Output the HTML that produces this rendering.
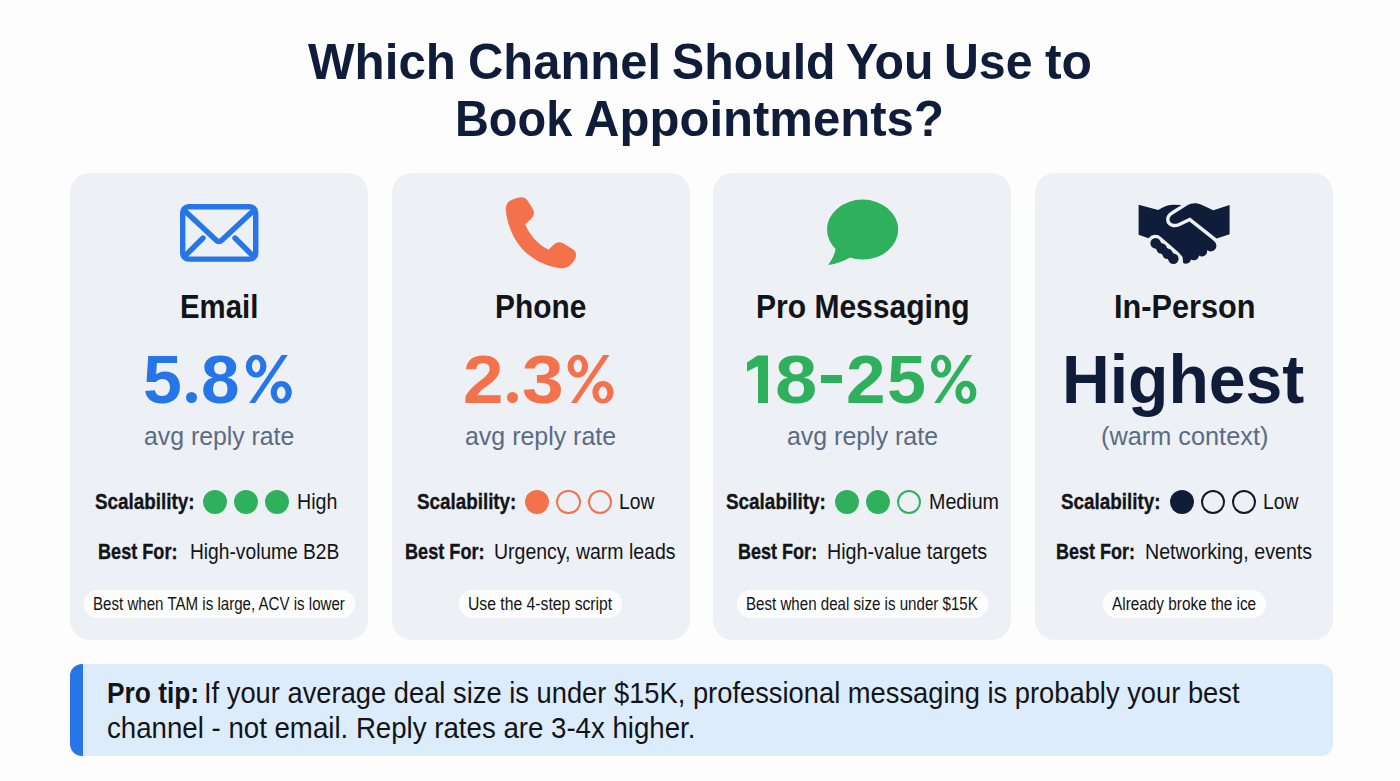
<!DOCTYPE html>
<html><head><meta charset="utf-8"><title>Which Channel Should You Use to Book Appointments?</title>
<style>
html,body{margin:0;padding:0}
body{width:1400px;height:781px;position:relative;overflow:hidden;background:#fdfdfd;font-family:"Liberation Sans",sans-serif}
.t{position:absolute;white-space:nowrap;transform-origin:0 0}
.card{position:absolute;top:173px;height:466.5px;background:#edf0f5;border-radius:20px}
.pill{position:absolute;top:590px;height:27.5px;background:#fdfdfd;border-radius:14px}
.dot{position:absolute;top:489.8px;width:24.4px;height:24.4px;border-radius:50%;box-sizing:border-box}
.tip{position:absolute;left:70px;top:663.5px;width:1263px;height:92.2px;box-sizing:border-box;background:#ddecfb;border-left:13px solid #2676e9;border-radius:12px}
svg{position:absolute;left:0;top:0}
</style></head><body>
<div class="card" style="left:70px;width:298px"></div><div class="card" style="left:391.6px;width:298.4px"></div><div class="card" style="left:713.2px;width:298.2px"></div><div class="card" style="left:1035px;width:298px"></div>
<div class="pill" style="left:84px;width:270.5px"></div><div class="pill" style="left:459px;width:163.3px"></div><div class="pill" style="left:736.8px;width:251.5px"></div><div class="pill" style="left:1102.5px;width:163.3px"></div>
<div class="tip"></div>
<div class="dot" style="left:202.5px;background:#2eb05c"></div><div class="dot" style="left:233.8px;background:#2eb05c"></div><div class="dot" style="left:264.9px;background:#2eb05c"></div><div class="dot" style="left:525px;background:#f3714b"></div><div class="dot" style="left:556.2px;border:2px solid #f3714b"></div><div class="dot" style="left:587.9px;border:2px solid #f3714b"></div><div class="dot" style="left:834.6px;background:#2eb05c"></div><div class="dot" style="left:866px;background:#2eb05c"></div><div class="dot" style="left:897.1px;border:2px solid #2eb05c"></div><div class="dot" style="left:1169.8px;background:#0f1d3a"></div><div class="dot" style="left:1200.8px;border:2px solid #121826"></div><div class="dot" style="left:1231.8px;border:2px solid #121826"></div>
<div style="position:absolute;left:185.7px;top:392.1px;width:11.4px;height:11.4px;border-radius:50%;background:#2676e9"></div><svg width="1400" height="781" style="position:absolute;left:0;top:0"><path fill="#2676e9" fill-rule="evenodd" d="M245.79 366.19 A10.34 11.39 0 1 0 266.48 366.19 A10.34 11.39 0 1 0 245.79 366.19 ZM251.98 366.00 A4.15 6.41 0 1 0 260.29 366.00 A4.15 6.41 0 1 0 251.98 366.00 ZM270.70 392.26 A10.55 11.25 0 1 0 291.80 392.26 A10.55 11.25 0 1 0 270.70 392.26 ZM276.89 392.79 A4.31 6.21 0 1 0 285.52 392.79 A4.31 6.21 0 1 0 276.89 392.79 Z"/><path fill="#2676e9" d="M281.53 355.09 L287.77 355.09 L255.13 403.11 L249.22 403.11 Z"/></svg><div style="position:absolute;left:506.9px;top:392.1px;width:11.4px;height:11.4px;border-radius:50%;background:#f3714b"></div><svg width="1400" height="781" style="position:absolute;left:0;top:0"><path fill="#f3714b" fill-rule="evenodd" d="M567.49 366.19 A10.34 11.39 0 1 0 588.18 366.19 A10.34 11.39 0 1 0 567.49 366.19 ZM573.68 366.00 A4.15 6.41 0 1 0 581.99 366.00 A4.15 6.41 0 1 0 573.68 366.00 ZM592.40 392.26 A10.55 11.25 0 1 0 613.50 392.26 A10.55 11.25 0 1 0 592.40 392.26 ZM598.59 392.79 A4.31 6.21 0 1 0 607.22 392.79 A4.31 6.21 0 1 0 598.59 392.79 Z"/><path fill="#f3714b" d="M603.23 355.09 L609.47 355.09 L576.83 403.11 L570.92 403.11 Z"/></svg><svg width="1400" height="781" style="position:absolute;left:0;top:0"><path fill="#2eb05c" d="M757.6 355.6 L768 355.6 L768 402.9 L758 402.9 L758 366 L747 371.5 L747 362.6 Z"/></svg><div style="position:absolute;left:820.5px;top:375.4px;width:21.9px;height:7.8px;background:#2eb05c"></div><svg width="1400" height="781" style="position:absolute;left:0;top:0"><path fill="#2eb05c" fill-rule="evenodd" d="M930.89 366.19 A10.21 11.39 0 1 0 951.31 366.19 A10.21 11.39 0 1 0 930.89 366.19 ZM937.00 366.00 A4.10 6.41 0 1 0 945.20 366.00 A4.10 6.41 0 1 0 937.00 366.00 ZM955.48 392.26 A10.42 11.25 0 1 0 976.31 392.26 A10.42 11.25 0 1 0 955.48 392.26 ZM961.59 392.79 A4.26 6.21 0 1 0 970.11 392.79 A4.26 6.21 0 1 0 961.59 392.79 Z"/><path fill="#2eb05c" d="M966.17 355.09 L972.33 355.09 L940.11 403.11 L934.27 403.11 Z"/></svg>
<svg width="1400" height="781" viewBox="0 0 1400 781">
<!-- envelope -->
<g fill="none" stroke="#2676e9" stroke-width="5.4" stroke-linejoin="round" stroke-linecap="round">
<rect x="182.7" y="206.7" width="73" height="52.4" rx="6"/>
<path d="M186 212 L216 240 Q219 243 222 240 L252 212"/>
<path d="M186 255 L203 238 M252 255 L235 238"/>
</g>
<!-- phone -->
<path fill="#f3714b" d="M505.8 210 C505.4 202 511 199 519.5 197.4 C523.5 196.9 525.8 198 527.8 201 L532.8 209 C535 213 534 216 531 219 L525.2 224.2 C530 236 539 245 548.6 249.8 L552.8 245.6 C556.8 241.6 560 241.6 564 243.8 L572.4 249 C576.4 251.8 577 255 575 259 C572 265 567 269 560 268.2 C528 263.5 509 240 505.8 210 Z"/>
<!-- bubble -->
<g fill="#2eb05c">
<ellipse cx="862.6" cy="229.6" rx="35.6" ry="30"/>
<path d="M836 247 C835 254 832 260 828 265 C836 264 845 261 852 256 Z"/>
</g>
<!-- handshake -->
<g fill="#0f1d3a">
<path d="M1138.6 204.7 L1158.3 210.1 C1162 207.5 1167 205 1172.6 204.7 L1181 205 L1200 222 L1214.5 241.5 A5.2 5.2 0 0 1 1207 250 A5.2 5.2 0 0 1 1199 255.5 A5.2 5.2 0 0 1 1191 259.5 A5.2 5.2 0 0 1 1183.2 263 L1182.6 257 L1178.5 252.3 L1161.2 237.2 A8.4 8.4 0 0 0 1148.5 238.3 L1138.6 234.7 Z"/>
<path stroke="#edf0f5" stroke-width="6.8" paint-order="stroke" stroke-linejoin="round" d="M1229.6 205 L1229.6 234.3 L1216.6 238.6 L1190 217.5 L1178 223.2 C1174 225 1169.5 223 1169.5 219.5 C1169.5 217 1171 215.5 1173.3 214.2 L1187 205.5 C1192 202.5 1197 202.5 1202 205 L1213.3 210.3 Z"/>
<path stroke="#0f1d3a" stroke-width="8" stroke-linecap="round" d="M1155.6 243.2 L1173.4 258.8"/>
<circle cx="1155.6" cy="243.2" r="5.2"/><circle cx="1161.6" cy="248.5" r="5.2"/><circle cx="1167.5" cy="253.7" r="5.2"/><circle cx="1173.4" cy="258.8" r="5.2"/>
</g>
</svg>

<div class="t" style="left:308.00px;top:37.31px;font-size:50.44px;line-height:50px;font-weight:700;color:#0f1d3a;transform:scaleX(0.9779);">Which</div>
<div class="t" style="left:467.74px;top:37.31px;font-size:50.44px;line-height:50px;font-weight:700;color:#0f1d3a;transform:scaleX(0.9699);">Channel</div>
<div class="t" style="left:671.55px;top:37.31px;font-size:50.44px;line-height:50px;font-weight:700;color:#0f1d3a;transform:scaleX(0.9570);">Should</div>
<div class="t" style="left:845.53px;top:37.31px;font-size:50.44px;line-height:50px;font-weight:700;color:#0f1d3a;transform:scaleX(0.9570);">You</div>
<div class="t" style="left:944.40px;top:37.31px;font-size:50.44px;line-height:50px;font-weight:700;color:#0f1d3a;transform:scaleX(0.9572);">Use</div>
<div class="t" style="left:1044.70px;top:37.31px;font-size:50.44px;line-height:50px;font-weight:700;color:#0f1d3a;transform:scaleX(0.9880);">to</div>
<div class="t" style="left:455.35px;top:93.71px;font-size:50.15px;line-height:50px;font-weight:700;color:#0f1d3a;transform:scaleX(0.9353);">Book</div>
<div class="t" style="left:584.37px;top:93.71px;font-size:50.15px;line-height:50px;font-weight:700;color:#0f1d3a;transform:scaleX(0.9789);">Appointments?</div>
<div class="t" style="left:180.09px;top:289.01px;font-size:33.72px;line-height:34px;font-weight:700;color:#121418;transform:scaleX(0.8704);">Email</div>
<div class="t" style="left:494.86px;top:289.01px;font-size:33.72px;line-height:34px;font-weight:700;color:#121418;transform:scaleX(0.8861);">Phone</div>
<div class="t" style="left:755.55px;top:289.01px;font-size:33.72px;line-height:34px;font-weight:700;color:#121418;transform:scaleX(0.8905);">Pro Messaging</div>
<div class="t" style="left:1113.50px;top:289.01px;font-size:33.72px;line-height:34px;font-weight:700;color:#121418;transform:scaleX(0.9105);">In-Person</div>
<div class="t" style="left:143.01px;top:344.61px;font-size:68.90px;line-height:69px;font-weight:700;color:#2676e9;transform:scaleX(1.0131);">5</div>
<div class="t" style="left:201.32px;top:344.61px;font-size:68.90px;line-height:69px;font-weight:700;color:#2676e9;transform:scaleX(1.0057);">8</div>
<div class="t" style="left:463.16px;top:344.61px;font-size:68.90px;line-height:69px;font-weight:700;color:#f3714b;transform:scaleX(1.0553);">2</div>
<div class="t" style="left:522.13px;top:344.61px;font-size:68.90px;line-height:69px;font-weight:700;color:#f3714b;transform:scaleX(1.0878);">3</div>
<div class="t" style="left:774.52px;top:344.61px;font-size:68.90px;line-height:69px;font-weight:700;color:#2eb05c;transform:scaleX(1.1025);">8</div>
<div class="t" style="left:846.01px;top:344.61px;font-size:68.90px;line-height:69px;font-weight:700;color:#2eb05c;transform:scaleX(1.0311);">2</div>
<div class="t" style="left:886.70px;top:344.61px;font-size:68.90px;line-height:69px;font-weight:700;color:#2eb05c;transform:scaleX(1.0160);">5</div>
<div class="t" style="left:1062.20px;top:346.17px;font-size:68.46px;line-height:68px;font-weight:700;color:#0f1d3a;transform:scaleX(0.9655);">Highest</div>
<div class="t" style="left:143.81px;top:422.95px;font-size:25.53px;line-height:26px;font-weight:400;color:#5b6b84;transform:scaleX(0.9721);">avg reply rate</div>
<div class="t" style="left:464.80px;top:422.95px;font-size:25.53px;line-height:26px;font-weight:400;color:#5b6b84;transform:scaleX(0.9774);">avg reply rate</div>
<div class="t" style="left:786.80px;top:422.95px;font-size:25.53px;line-height:26px;font-weight:400;color:#5b6b84;transform:scaleX(0.9767);">avg reply rate</div>
<div class="t" style="left:1100.88px;top:422.60px;font-size:25.95px;line-height:26px;font-weight:400;color:#5b6b84;transform:scaleX(0.9757);">(warm context)</div>
<div class="t" style="left:94.53px;top:489.94px;font-size:22.97px;line-height:23px;font-weight:700;color:#121418;transform:scaleX(0.8210);-webkit-text-stroke:0.35px #121418">Scalability:</div>
<div class="t" style="left:296.83px;top:490.64px;font-size:21.80px;line-height:22px;font-weight:400;color:#121418;transform:scaleX(0.9005);">High</div>
<div class="t" style="left:416.54px;top:489.94px;font-size:22.97px;line-height:23px;font-weight:700;color:#121418;transform:scaleX(0.8193);-webkit-text-stroke:0.35px #121418">Scalability:</div>
<div class="t" style="left:619.46px;top:490.64px;font-size:21.80px;line-height:22px;font-weight:400;color:#121418;transform:scaleX(0.8834);">Low</div>
<div class="t" style="left:725.93px;top:489.94px;font-size:22.97px;line-height:23px;font-weight:700;color:#121418;transform:scaleX(0.8227);-webkit-text-stroke:0.35px #121418">Scalability:</div>
<div class="t" style="left:929.13px;top:490.64px;font-size:21.80px;line-height:22px;font-weight:400;color:#121418;transform:scaleX(0.9026);">Medium</div>
<div class="t" style="left:1061.43px;top:489.94px;font-size:22.97px;line-height:23px;font-weight:700;color:#121418;transform:scaleX(0.8202);-webkit-text-stroke:0.35px #121418">Scalability:</div>
<div class="t" style="left:1263.26px;top:490.64px;font-size:21.80px;line-height:22px;font-weight:400;color:#121418;transform:scaleX(0.8834);">Low</div>
<div class="t" style="left:97.92px;top:541.04px;font-size:21.80px;line-height:22px;font-weight:700;color:#121418;transform:scaleX(0.8305);-webkit-text-stroke:0.35px #121418">Best For:</div>
<div class="t" style="left:190.36px;top:541.04px;font-size:21.80px;line-height:22px;font-weight:400;color:#121418;transform:scaleX(0.8805);">High-volume B2B</div>
<div class="t" style="left:405.02px;top:541.04px;font-size:21.80px;line-height:22px;font-weight:700;color:#121418;transform:scaleX(0.8316);-webkit-text-stroke:0.35px #121418">Best For:</div>
<div class="t" style="left:494.24px;top:541.04px;font-size:21.80px;line-height:22px;font-weight:400;color:#121418;transform:scaleX(0.8934);">Urgency, warm leads</div>
<div class="t" style="left:737.53px;top:541.04px;font-size:21.80px;line-height:22px;font-weight:700;color:#121418;transform:scaleX(0.8272);-webkit-text-stroke:0.35px #121418">Best For:</div>
<div class="t" style="left:827.12px;top:541.04px;font-size:21.80px;line-height:22px;font-weight:400;color:#121418;transform:scaleX(0.9047);">High-value targets</div>
<div class="t" style="left:1056.13px;top:541.04px;font-size:21.80px;line-height:22px;font-weight:700;color:#121418;transform:scaleX(0.8251);-webkit-text-stroke:0.35px #121418">Best For:</div>
<div class="t" style="left:1144.83px;top:541.04px;font-size:21.80px;line-height:22px;font-weight:400;color:#121418;transform:scaleX(0.9015);">Networking, events</div>
<div class="t" style="left:92.79px;top:596.25px;font-size:17.44px;line-height:17px;font-weight:400;color:#121418;transform:scaleX(0.8654);">Best when TAM is large, ACV is lower</div>
<div class="t" style="left:467.82px;top:596.25px;font-size:17.44px;line-height:17px;font-weight:400;color:#121418;transform:scaleX(0.9019);">Use the 4-step script</div>
<div class="t" style="left:745.79px;top:596.25px;font-size:17.44px;line-height:17px;font-weight:400;color:#121418;transform:scaleX(0.8666);">Best when deal size is under $15K</div>
<div class="t" style="left:1112.40px;top:596.25px;font-size:17.44px;line-height:17px;font-weight:400;color:#121418;transform:scaleX(0.8799);">Already broke the ice</div>
<div class="t" style="left:106.89px;top:677.74px;font-size:30.16px;line-height:30px;font-weight:700;color:#121418;transform:scaleX(0.8729);">Pro tip:</div>
<div class="t" style="left:204.44px;top:677.69px;font-size:30.01px;line-height:30px;font-weight:400;color:#121418;transform:scaleX(0.9105);">If your average deal size is under $15K, professional messaging is probably your best</div>
<div class="t" style="left:106.99px;top:713.02px;font-size:30.23px;line-height:30px;font-weight:400;color:#121418;transform:scaleX(0.9147);">channel - not email. Reply rates are 3-4x higher.</div>
</body></html>
